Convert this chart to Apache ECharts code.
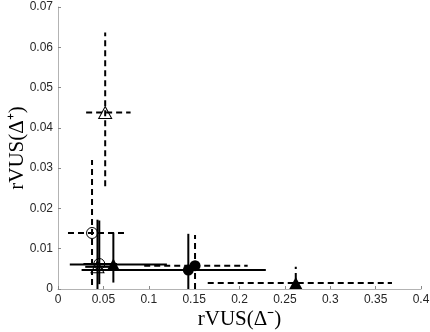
<!DOCTYPE html>
<html>
<head>
<meta charset="utf-8">
<script src="https://cdn.jsdelivr.net/npm/echarts@6/dist/echarts.min.js"></script>
<style>
  html, body { margin: 0; padding: 0; background: #fff; }
  #chart { width: 430px; height: 332px; }
</style>
</head>
<body>
<div id="chart"></div>
<script>
// points with dashed error bars: open triangle, open circle, filled circle, filled triangle
const dashedX = [0.052, 0.0375, 0.151, 0.262];
const dashedY = [0.0438, 0.0139, 0.0058, 0.0015];
const dashedXLow = [0.031, 0.011, 0.095, 0.165];
const dashedXHigh = [0.080, 0.077, 0.209, 0.368];
const dashedYLow = [0.0255, 0.001, 0.0, 0.0];
const dashedYHigh = [0.0637, 0.032, 0.0134, 0.0055];

// points with solid error bars: open triangle, open circle, filled triangle, filled circle
const solidX = [0.0435, 0.0455, 0.061, 0.1436];
const solidY = [0.0055, 0.0062, 0.0061, 0.0047];
const solidXLow = [0.030, 0.028, 0.013, 0.026];
const solidXHigh = [0.060, 0.065, 0.120, 0.229];
const solidYLow = [0.0, 0.0012, 0.0016, 0.0];
const solidYHigh = [0.0172, 0.0170, 0.0140, 0.0137];

const xTicks = { min: 0, max: 0.4, interval: 0.05 };
const yTicks = { min: 0, max: 0.07, interval: 0.01 };

const dashedMarkers = ['openTriangle', 'openCircle', 'filledCircle', 'filledTriangle'];
const solidMarkers = ['openTriangle', 'openCircle', 'filledTriangle', 'filledCircle'];

function rows(xs, ys, xl, xh, yl, yh) {
  return xs.map((x, i) => [x, ys[i], xl[i], xh[i], yl[i], yh[i]]);
}

function markerItem(kind, x, y) {
  const tri = kind.indexOf('Triangle') >= 0;
  const filled = kind.indexOf('filled') === 0;
  return {
    value: [x, y],
    symbol: tri ? 'triangle' : 'circle',
    symbolSize: tri ? [13, 12] : 11,
    itemStyle: {
      color: filled ? '#000' : 'rgba(0,0,0,0)',
      borderColor: '#000',
      borderWidth: filled ? 0 : 1,
      opacity: 1,
    },
  };
}

function errorBars(dash) {
  return function (params, api) {
    const l = api.coord([api.value(2), api.value(1)]);
    const r = api.coord([api.value(3), api.value(1)]);
    const b = api.coord([api.value(0), api.value(4)]);
    const t = api.coord([api.value(0), api.value(5)]);
    const style = { stroke: '#000', lineWidth: 2, lineDash: dash };
    return {
      type: 'group',
      children: [
        { type: 'line', shape: { x1: l[0], y1: l[1], x2: r[0], y2: r[1] }, style: style },
        { type: 'line', shape: { x1: b[0], y1: b[1], x2: t[0], y2: t[1] }, style: style },
      ],
    };
  };
}

const chart = echarts.init(document.getElementById('chart'));

const axisCommon = {
  type: 'value',
  nameLocation: 'middle',
  nameMoveOverlap: false,
  nameTextStyle: { fontFamily: 'Liberation Serif', fontSize: 21, color: '#000' },
  axisLine: { show: true, lineStyle: { color: '#b3b3b3', width: 1 } },
  axisTick: { show: true, inside: true, length: 3, lineStyle: { color: '#888' } },
  axisLabel: { fontFamily: 'Liberation Sans', fontSize: 12, color: '#262626', margin: 5 },
  splitLine: { show: false },
};

const option = {
  animation: false,
  grid: { left: 58, right: 9, top: 7, bottom: 43, containLabel: false, outerBoundsMode: 'none' },
  xAxis: Object.assign({}, axisCommon, {
    min: xTicks.min, max: xTicks.max, interval: xTicks.interval,
    name: 'rVUS(Δ⁻)',
    nameGap: 20,
  }),
  yAxis: Object.assign({}, axisCommon, {
    min: yTicks.min, max: yTicks.max, interval: yTicks.interval,
    name: 'rVUS(Δ⁺)',
    nameGap: 30,
  }),
  series: [
    {
      type: 'custom',
      renderItem: errorBars([6, 4]),
      encode: { x: [0, 2, 3], y: [1, 4, 5] },
      data: rows(dashedX, dashedY, dashedXLow, dashedXHigh, dashedYLow, dashedYHigh),
      z: 2,
    },
    {
      type: 'custom',
      renderItem: errorBars(null),
      encode: { x: [0, 2, 3], y: [1, 4, 5] },
      data: rows(solidX, solidY, solidXLow, solidXHigh, solidYLow, solidYHigh),
      z: 2,
    },
    {
      type: 'scatter',
      z: 3,
      data: dashedX.map((x, i) => markerItem(dashedMarkers[i], x, dashedY[i]))
        .concat(solidX.map((x, i) => markerItem(solidMarkers[i], x, solidY[i]))),
    },
  ],
};

chart.setOption(option);
</script>
</body>
</html>
